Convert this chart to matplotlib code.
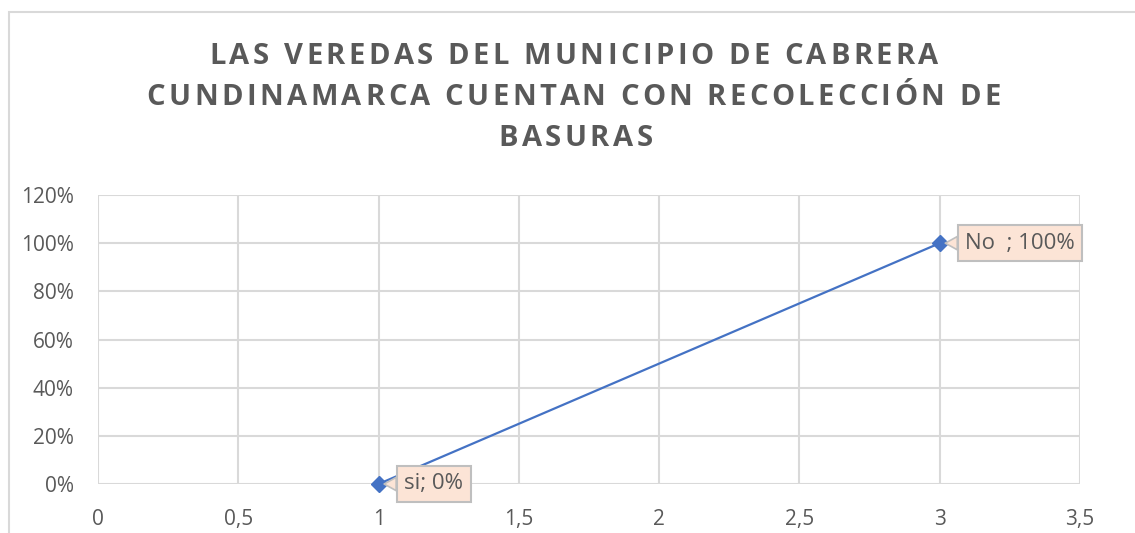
import matplotlib
matplotlib.use('Agg')
import matplotlib.pyplot as plt
from matplotlib.patches import Rectangle
from matplotlib.transforms import IdentityTransform
from matplotlib.ticker import FuncFormatter, MultipleLocator

# data
labels = ['si', 'No  ']
xs = [1, 3]
ys = [0.0, 1.0]

title_lines = ['LAS VEREDAS DEL MUNICIPIO DE CABRERA',
               'CUNDINAMARCA CUENTAN CON RECOLECCIÓN DE',
               'BASURAS']

W, H = 1135, 533
grey = '#595959'
grid = '#D9D9D9'
blue = '#4472C4'

plt.rcParams['font.family'] = ['Open Sans', 'DejaVu Sans']

fig = plt.figure(figsize=(W / 100, H / 100), dpi=100)
ax = fig.add_axes([98 / W, (H - 484) / H, (1080 - 98) / W, (484 - 195) / H])

# chart border (runs off the right and bottom edges in the screenshot)
fig.patches.append(Rectangle((9, -20), W + 20, H + 20 - 12, transform=IdentityTransform(),
                             fill=False, edgecolor=grid, linewidth=1.5))


def spaced_text(s, xc, y_base, spacing, **kw):
    # letter-spaced text, centred on xc (pixels), baseline at y_base (pixels from top)
    r = fig.canvas.get_renderer()

    def width(txt):
        t = fig.text(0, 0, txt, transform=IdentityTransform(), **kw)
        w = t.get_window_extent(r).width
        t.remove()
        return w

    bar = width('|')
    offs = [width(s[:i] + '|') - bar if i else 0 for i in range(len(s))]
    total = width(s) + (len(s) - 1) * spacing
    x0 = xc - total / 2
    for i, ch in enumerate(s):
        if ch == ' ':
            continue
        fig.text(x0 + offs[i] + i * spacing, H - y_base, ch, transform=IdentityTransform(),
                 ha='left', va='baseline', **kw)


for line, xc, yb in zip(title_lines, [574, 573.5, 575.5], [64, 105, 146]):
    spaced_text(line, xc, yb, 3.5, fontsize=21, fontweight='bold', color=grey)

ax.plot(xs, ys, color=blue, linewidth=1.6, marker='D', markersize=8.5,
        markerfacecolor=blue, markeredgecolor=blue, zorder=3, clip_on=False)

for lab, x, y in zip(labels, xs, ys):
    ax.annotate(f'{lab}; {y:.0%}', xy=(x, y), xytext=(18.5, 0), textcoords='offset points',
                ha='left', va='center', fontsize=16, color=grey,
                bbox=dict(boxstyle='square,pad=0.33', facecolor='#FCE4D6', edgecolor='#BFBFBF', linewidth=1.5),
                arrowprops=dict(arrowstyle='wedge,tail_width=0.6,shrink_factor=0.5', facecolor='#FCE4D6',
                                edgecolor='#BFBFBF', linewidth=1.2, shrinkA=0, shrinkB=4),
                zorder=4)

ax.set_xlim(0, 3.5)
ax.set_ylim(0, 1.2)
ax.xaxis.set_major_locator(MultipleLocator(0.5))
ax.yaxis.set_major_locator(MultipleLocator(0.2))
ax.xaxis.set_major_formatter(FuncFormatter(lambda v, p: f'{v:g}'.replace('.', ',')))
ax.yaxis.set_major_formatter(FuncFormatter(lambda v, p: f'{v * 100:.0f}%'))
ax.grid(True, color=grid, linewidth=1.5)
ax.set_axisbelow(True)
for s in ax.spines.values():
    s.set_visible(False)
ax.tick_params(length=0, labelsize=15, labelcolor=grey)
ax.tick_params(axis='x', pad=18)
ax.tick_params(axis='y', pad=17.5)

fig.savefig('out.png', dpi=100)
